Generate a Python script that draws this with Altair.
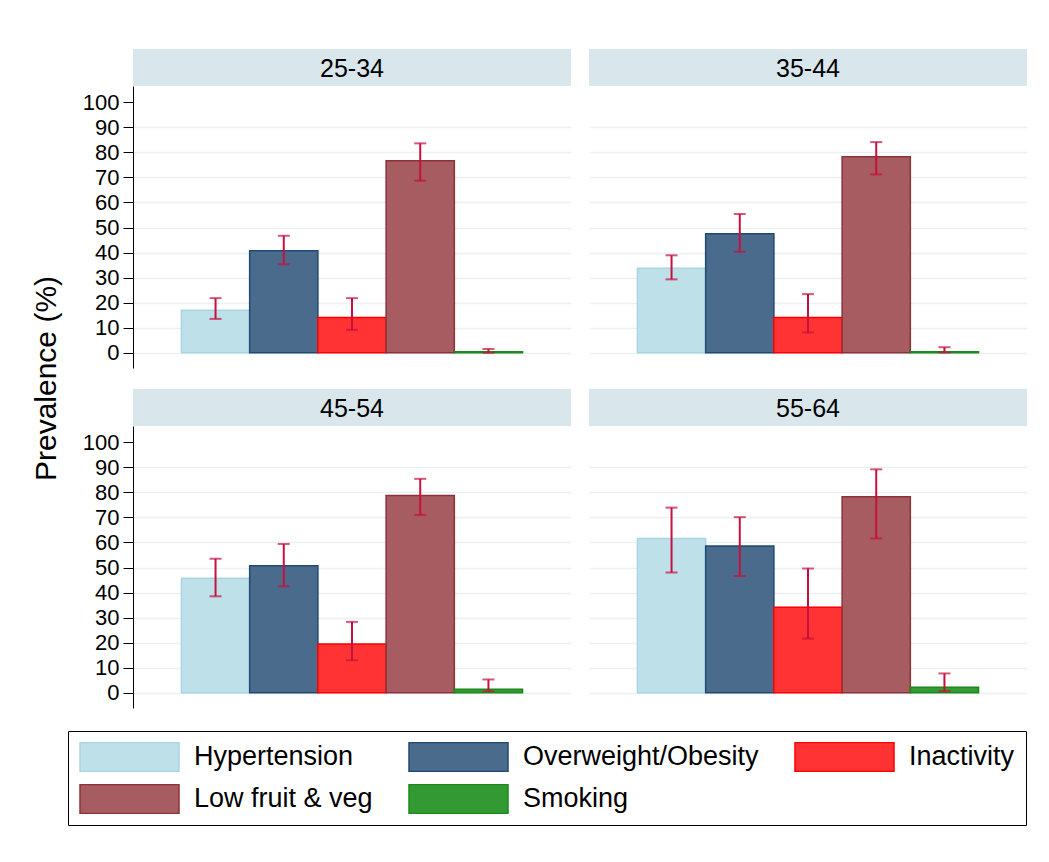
import altair as alt
import pandas as pd

FONT = "Liberation Sans"

AGES = ["25-34", "35-44", "45-54", "55-64"]
RISKS = ["Hypertension", "Overweight/Obesity", "Inactivity", "Low fruit & veg", "Smoking"]
Y_TITLE = "Prevalence (%)"

# prevalence (%) per age group, with 95% CI bounds
HYPERTENSION = [17.0, 33.7, 45.7, 61.6]
HYPERTENSION_LO = [13.5, 29.3, 38.5, 48.0]
HYPERTENSION_HI = [21.8, 38.9, 53.5, 73.9]

OVERWEIGHT = [40.7, 47.5, 50.7, 58.6]
OVERWEIGHT_LO = [35.3, 40.3, 42.5, 46.6]
OVERWEIGHT_HI = [46.7, 55.4, 59.4, 70.1]

INACTIVITY = [14.1, 14.1, 19.5, 34.1]
INACTIVITY_LO = [9.1, 8.1, 13.0, 21.6]
INACTIVITY_HI = [21.8, 23.4, 28.3, 49.6]

LOW_FRUIT_VEG = [76.7, 78.3, 78.7, 78.3]
LOW_FRUIT_VEG_LO = [68.7, 71.2, 71.0, 61.6]
LOW_FRUIT_VEG_HI = [83.6, 84.1, 85.4, 89.2]

SMOKING = [0.4, 0.4, 1.4, 2.2]
SMOKING_LO = [0.0, 0.1, 0.6, 0.6]
SMOKING_HI = [1.5, 2.2, 5.3, 7.7]

Y_TICKS = [0, 10, 20, 30, 40, 50, 60, 70, 80, 90, 100]

FILLS = ["#BEE0E8", "#4A6B8B", "#FF3333", "#A65C60", "#339933"]
STROKES = ["#A9D4E2", "#1F4A73", "#FF0000", "#8E3239", "#1A8A1A"]
ERR_COLOR = "#C8103F"
GRID_COLOR = "#EAF1F3"
STRIP_COLOR = "#D9E6EB"

series = {
    "Hypertension": (HYPERTENSION, HYPERTENSION_LO, HYPERTENSION_HI),
    "Overweight/Obesity": (OVERWEIGHT, OVERWEIGHT_LO, OVERWEIGHT_HI),
    "Inactivity": (INACTIVITY, INACTIVITY_LO, INACTIVITY_HI),
    "Low fruit & veg": (LOW_FRUIT_VEG, LOW_FRUIT_VEG_LO, LOW_FRUIT_VEG_HI),
    "Smoking": (SMOKING, SMOKING_LO, SMOKING_HI),
}

rows = []
for i, age in enumerate(AGES):
    for risk in RISKS:
        v, lo, hi = series[risk]
        rows.append({"age": age, "risk": risk, "value": v[i], "lo": lo[i], "hi": hi[i]})
df = pd.DataFrame(rows)

PANEL_W = 438
PANEL_H = 282
STRIP_H = 37
ROW_GAP = 21
GRID_H = 2 * (STRIP_H + PANEL_H) + ROW_GAP

legend = alt.Legend(title=None)
yscale = alt.Scale(domain=[-6.1, 106.5], nice=False, zero=False)
grid_op = {"condition": {"test": "datum.value === 100", "value": 0}, "value": 1}


def panel(age, left):
    base = alt.Chart(df).transform_filter(alt.datum.age == age)
    x = alt.X("risk:N", sort=RISKS,
              scale=alt.Scale(domain=RISKS, paddingInner=0, paddingOuter=0.71),
              axis=None)
    if left:
        yaxis = alt.Axis(values=Y_TICKS, title=None, grid=True, gridColor=GRID_COLOR,
                         gridWidth=1.5, gridOpacity=grid_op, labelOverlap=False,
                         domainColor="black", domainWidth=1, tickColor="black",
                         tickSize=10, tickWidth=1, labelFont=FONT, labelFontSize=22,
                         labelColor="black", labelPadding=4)
    else:
        yaxis = alt.Axis(values=Y_TICKS, title=None, grid=True, gridColor=GRID_COLOR,
                         gridWidth=1.5, gridOpacity=grid_op,
                         labels=False, ticks=False, domain=False)
    bars = base.mark_bar(strokeWidth=1.5).encode(
        x=x,
        y=alt.Y("value:Q", scale=yscale, axis=yaxis, title=None),
        y2=alt.datum(0),
        fill=alt.Fill("risk:N", scale=alt.Scale(domain=RISKS, range=FILLS), legend=legend),
        stroke=alt.Stroke("risk:N", scale=alt.Scale(domain=RISKS, range=STROKES), legend=legend),
    )
    rule = base.mark_rule(color=ERR_COLOR, strokeWidth=2).encode(
        x=x,
        y=alt.Y("lo:Q", scale=yscale, axis=yaxis, title=None),
        y2="hi:Q",
    )
    cap_lo = base.mark_tick(color=ERR_COLOR, size=12, thickness=2, orient="horizontal").encode(
        x=x, y=alt.Y("lo:Q", scale=yscale, axis=yaxis, title=None))
    cap_hi = base.mark_tick(color=ERR_COLOR, size=12, thickness=2, orient="horizontal").encode(
        x=x, y=alt.Y("hi:Q", scale=yscale, axis=yaxis, title=None))
    plot = alt.layer(bars, rule, cap_lo, cap_hi).properties(width=PANEL_W, height=PANEL_H)

    strip_text = alt.Chart(pd.DataFrame({"age": [age]})).mark_text(
        font=FONT, fontSize=25, color="black", baseline="middle", align="center"
    ).encode(text="age:N", x=alt.value(PANEL_W / 2), y=alt.value(STRIP_H / 2 + 1))
    strip = alt.layer(strip_text).properties(
        width=PANEL_W, height=STRIP_H,
        view=alt.ViewBackground(fill=STRIP_COLOR, stroke=None))
    return alt.vconcat(strip, plot, spacing=0)


row1 = alt.hconcat(panel(AGES[0], True), panel(AGES[1], False), spacing=18)
row2 = alt.hconcat(panel(AGES[2], True), panel(AGES[3], False), spacing=18)
grid = alt.vconcat(row1, row2, spacing=ROW_GAP)

title_chart = alt.Chart(pd.DataFrame({"t": [Y_TITLE]})).mark_text(
    font=FONT, fontSize=30, color="black", angle=270, baseline="middle", align="center"
).encode(text="t:N", x=alt.value(15), y=alt.value(GRID_H / 2)).properties(
    width=30, height=GRID_H)

chart = alt.hconcat(title_chart, grid, spacing=20).properties(
    padding={"left": 24, "top": 41, "right": 5, "bottom": 5},
).configure_view(stroke=None).configure_axis(
    labelFont=FONT, labelFontSize=22, labelColor="black", tickSize=10, labelPadding=4,
).configure_legend(
    orient="none", legendX=36, legendY=682, columns=3, direction="horizontal",
    strokeColor="black", padding=11, rowPadding=12, columnPadding=35,
    symbolType="M-1,-0.293H1V0.293H-1Z", symbolSize=9801, symbolStrokeWidth=1.5,
    symbolOpacity=1, clipHeight=30,
    labelFont=FONT, labelFontSize=27, labelColor="black", labelLimit=600, labelOffset=14,
)

chart.save("out.html", embed_options={"renderer": "svg", "actions": False})
